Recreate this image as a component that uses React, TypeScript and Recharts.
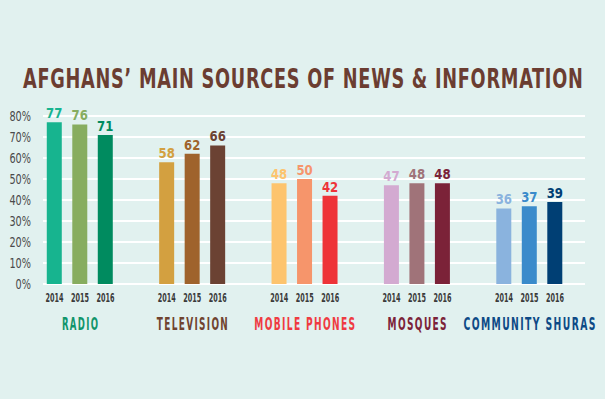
import React from 'react';
import { BarChart, Bar, XAxis, YAxis, CartesianGrid, Cell, LabelList } from 'recharts';

const categories = ['RADIO', 'TELEVISION', 'MOBILE PHONES', 'MOSQUES', 'COMMUNITY SHURAS'];
const years = ['2014', '2015', '2016'];
const values2014 = [77, 58, 48, 47, 36];
const values2015 = [76, 62, 50, 48, 37];
const values2016 = [71, 66, 42, 48, 39];
const yTicks = [0, 10, 20, 30, 40, 50, 60, 70, 80];

const colors2014 = ['#17b48f', '#d3a040', '#fdc46e', '#d3aad1', '#8ab3de'];
const colors2015 = ['#87ad5f', '#9f632c', '#f6956b', '#a07379', '#3a8bcb'];
const colors2016 = ['#008b5f', '#6b4233', '#ee3338', '#7b2238', '#003f74'];
const categoryColors = ['#10956b', '#70432f', '#ef3b42', '#7b2238', '#0d4a86'];
const categoryWidths = [36, 71, 101, 59, 132];

const FONT_NAME = 'DejaVu Sans Condensed';
const FONT = "'DejaVu Sans Condensed', 'Liberation Sans', sans-serif";

let ctx: CanvasRenderingContext2D | null = null;
const measure = (text: string, size: number, weight: string, spacing: number) => {
  if (typeof document === 'undefined') return text.length * size * 0.55;
  if (!ctx) ctx = document.createElement('canvas').getContext('2d');
  if (!ctx) return text.length * size * 0.55;
  ctx.font = `${weight} ${size}px '${FONT_NAME}'`;
  return ctx.measureText(text).width + spacing * (text.length - 1);
};

type STProps = {
  x: number;
  y: number;
  text: string;
  size: number;
  fill: string;
  weight?: string;
  spacing?: number;
  width?: number;
  sx?: number;
  anchor?: 'start' | 'middle' | 'end';
};

const ScaledText = ({ x, y, text, size, fill, weight = 'normal', spacing = 0, width, sx, anchor = 'middle' }: STProps) => {
  const natural = measure(text, size, weight, spacing);
  const s = sx !== undefined ? sx : width ? width / natural : 1;
  let startX = 0;
  if (anchor === 'middle') startX = -natural / 2;
  else if (anchor === 'end') startX = -natural;
  return (
    <g transform={`translate(${x},${y}) scale(${s},1)`}>
      <text
        x={startX}
        y={0}
        textAnchor="start"
        fontFamily={FONT}
        fontWeight={weight}
        fontSize={size}
        fill={fill}
        letterSpacing={spacing}
      >
        {text}
      </text>
    </g>
  );
};

const data = categories.map((c, i) => ({
  idx: i,
  name: c,
  y2014: values2014[i],
  y2015: values2015[i],
  y2016: values2016[i],
}));

const BAR = 15;
const GAP = 10.5;

const GroupTick = (props: any) => {
  const { x, y, payload } = props;
  const i = payload.value as number;
  return (
    <g>
      {years.map((yr, j) => (
        <ScaledText
          key={yr}
          x={x + (j - 1) * (BAR + GAP)}
          y={y + 18}
          text={yr}
          size={12.5}
          weight="bold"
          fill="#3a3a3a"
          width={18}
        />
      ))}
      <ScaledText
        x={x}
        y={y + 46}
        text={categories[i]}
        size={18.5}
        spacing={2.5}
        weight="bold"
        fill={categoryColors[i]}
        width={categoryWidths[i]}
      />
    </g>
  );
};

const YTick = (props: any) => {
  const { x, y, payload } = props;
  return (
    <ScaledText x={x} y={y + 5} text={payload.value + '%'} size={13.5} fill="#4a4a4a" sx={0.8} anchor="end" />
  );
};

const makeLabel = (colors: string[]) => (props: any) => {
  const { x, y, width, value, index } = props;
  return (
    <ScaledText
      x={x + width / 2}
      y={y - 4}
      text={String(value)}
      size={14.5}
      weight="bold"
      fill={colors[index]}
      sx={0.9}
    />
  );
};

export default function App() {
  return (
    <div style={{ position: 'absolute', left: 0, top: 0, width: 605, height: 399, background: '#e1f1ef', overflow: 'hidden' }}>
      <svg width={605} height={399} style={{ position: 'absolute', left: 0, top: 0 }}>
        <ScaledText
          x={303}
          y={88}
          text="AFGHANS’ MAIN SOURCES OF NEWS & INFORMATION"
          size={27}
          weight="bold"
          spacing={1}
          fill="#6b3d31"
          width={560}
        />
      </svg>
      <div style={{ position: 'absolute', left: 0, top: 0 }}>
        <BarChart
          width={605}
          height={399}
          data={data}
          margin={{ top: 116, right: 20, bottom: 0, left: 0 }}
          barGap={GAP}
        >
          <CartesianGrid horizontal vertical={false} stroke="#ffffff" strokeWidth={2} />
          <XAxis
            type="number"
            dataKey="idx"
            domain={[-0.329, 4.494]}
            ticks={[0, 1, 2, 3, 4]}
            interval={0}
            allowDataOverflow
            axisLine={false}
            tickLine={false}
            tickSize={0}
            tickMargin={0}
            height={115}
            tick={<GroupTick />}
          />
          <YAxis
            width={43}
            domain={[0, 80]}
            ticks={yTicks}
            interval={0}
            axisLine={false}
            tickLine={false}
            tickSize={0}
            tickMargin={12}
            tick={<YTick />}
          />
          <Bar dataKey="y2014" barSize={BAR} isAnimationActive={false}>
            {data.map((d, i) => (
              <Cell key={d.name} fill={colors2014[i]} />
            ))}
            <LabelList dataKey="y2014" content={makeLabel(colors2014)} />
          </Bar>
          <Bar dataKey="y2015" barSize={BAR} isAnimationActive={false}>
            {data.map((d, i) => (
              <Cell key={d.name} fill={colors2015[i]} />
            ))}
            <LabelList dataKey="y2015" content={makeLabel(colors2015)} />
          </Bar>
          <Bar dataKey="y2016" barSize={BAR} isAnimationActive={false}>
            {data.map((d, i) => (
              <Cell key={d.name} fill={colors2016[i]} />
            ))}
            <LabelList dataKey="y2016" content={makeLabel(colors2016)} />
          </Bar>
        </BarChart>
      </div>
    </div>
  );
}
